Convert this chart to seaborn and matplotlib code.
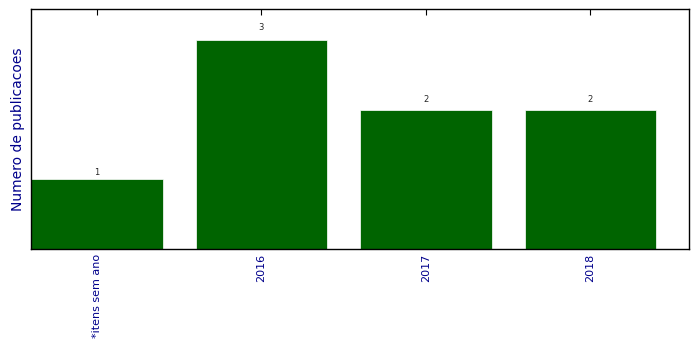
import matplotlib
matplotlib.use("Agg")
import matplotlib.pyplot as plt
import seaborn as sns
import pandas as pd

categories = ["*itens sem ano", "2016", "2017", "2018"]
counts = [1, 3, 2, 2]

df = pd.DataFrame({"ano": categories, "n": counts})

sns.set_style("white")
plt.rcParams["font.family"] = ["DejaVu Sans"]

fig = plt.figure(figsize=(6.99, 3.49), dpi=100)
ax = fig.add_axes([31/699, 1-249/349, (689-31)/699, (249-9)/349])

sns.barplot(data=df, x="ano", y="n", color="#006400", saturation=1, width=0.8,
            edgecolor="white", linewidth=0.5, ax=ax)

for i, v in enumerate(counts):
    ax.text(i, v * 1.04, str(v), ha="center", va="bottom", fontsize=6)

ax.set_xlim(-0.4, 3.6)
ax.set_ylim(0, max(counts) * 1.15)
ax.set_yticks([])
ax.set_xlabel("")
ax.set_ylabel("Numero de publicacoes", color="#00008B", fontsize=10)
ax.tick_params(axis="x", direction="in", top=True, bottom=True, length=4,
               labelcolor="#00008B", labelsize=8, labelrotation=90, color="black")
for s in ax.spines.values():
    s.set_visible(True)
    s.set_color("black")
    s.set_linewidth(1)

fig.savefig("out.png", dpi=100)
